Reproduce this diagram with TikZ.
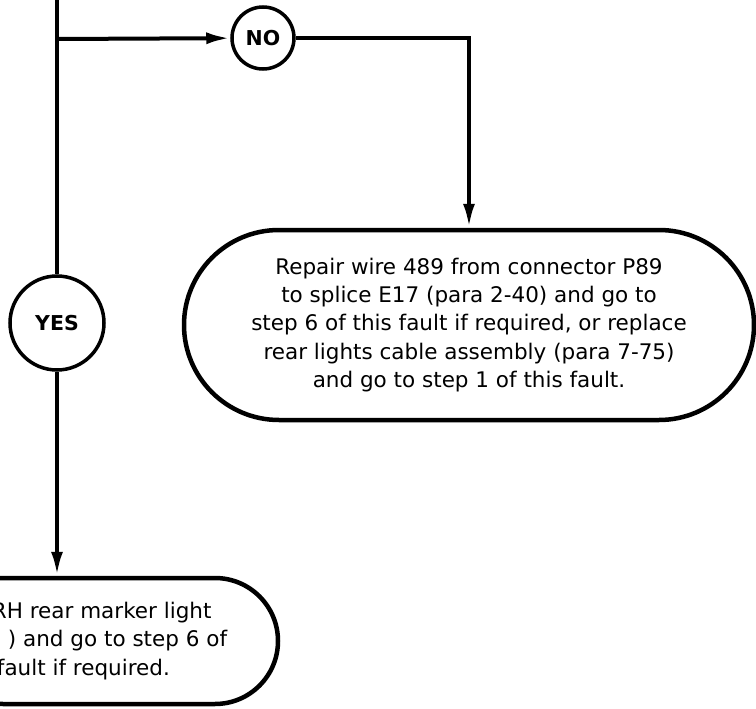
\documentclass[tikz,border=0pt]{standalone}
\usepackage{fontspec}
\setmainfont{DejaVu Sans}
\usetikzlibrary{arrows.meta, shapes.misc}

\begin{document}
\begin{tikzpicture}[
  x=1pt, y=-1pt,
  wire/.style={line width=4pt},
  flow/.style={wire, -{Latex[length=24pt, width=12pt]}},
  answer/.style={draw, circle, line width=3.5pt, inner sep=0pt, font=\fontsize{20.5}{24}\selectfont\bfseries},
  action/.style={draw, rounded rectangle, line width=4.5pt, inner sep=0pt, font=\fontsize{21.5}{28.3}\selectfont},
]
  \useasboundingbox (0,0) rectangle (756,709);
  \clip (0,0) rectangle (756,709);

  \coordinate (entry) at (57,-10);
  \coordinate (split) at (57,39);
  \node[answer, minimum size=62pt] (no) at (263,38) {NO};
  \node[answer, minimum size=94pt] (yes) at (57,323) {YES};
  \node[action, minimum width=570pt, minimum height=190pt, align=center] (repair) at (469,325) {
    Repair wire 489 from connector P89\\
    to splice E17 (para 2-40) and go to\\
    step 6 of this fault if required, or replace\\
    rear lights cable assembly (para 7-75)\\
    and go to step 1 of this fault.
  };
  \node[action, minimum width=338pt, minimum height=126pt, align=left] (replace) at (109,641) {
    \hspace*{1pt}RH rear marker light\\
    \hspace*{17pt}) and go to step 6 of\\
    \hspace*{6pt}fault if required.
  };

  \draw[wire] (entry) -- (yes);
  \draw[flow] (split) -- (no);
  \draw[flow] (no) -| (repair);
  \draw[flow] (yes) -- (yes |- replace.north);
\end{tikzpicture}
\end{document}
